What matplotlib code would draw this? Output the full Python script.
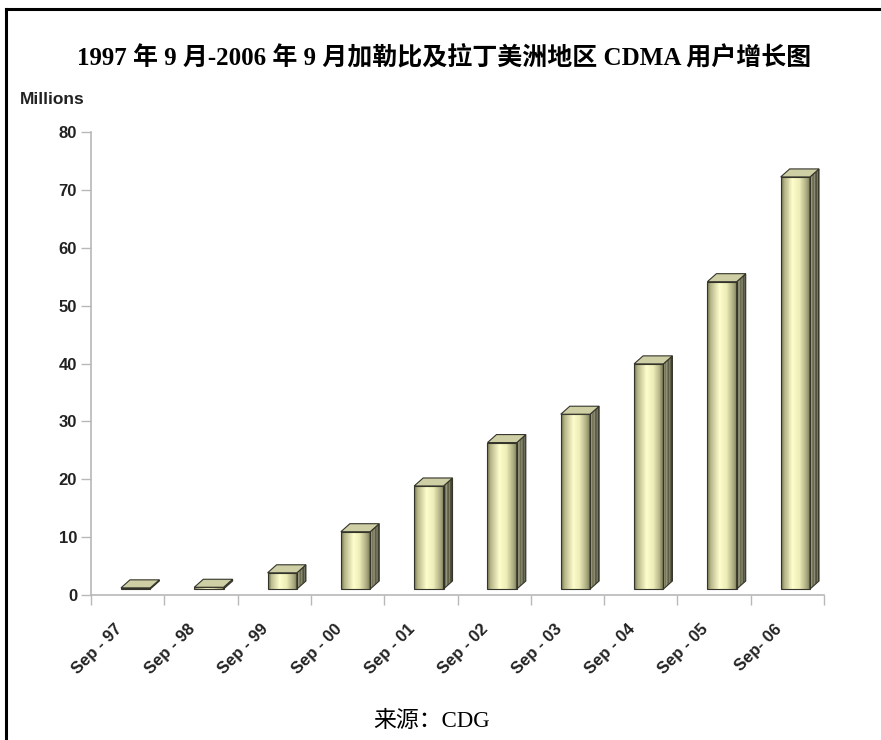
import matplotlib
matplotlib.use('Agg')
import matplotlib.pyplot as plt
import numpy as np
from matplotlib.patches import Rectangle, Polygon
from matplotlib.colors import LinearSegmentedColormap
from matplotlib.transforms import ScaledTranslation
from matplotlib.lines import Line2D

# ---- data ----
categories = ['Sep - 97', 'Sep - 98', 'Sep - 99', 'Sep - 00', 'Sep - 01',
              'Sep - 02', 'Sep - 03', 'Sep - 04', 'Sep - 05', 'Sep- 06']
subscribers = [0.2, 0.3, 2.8, 9.9, 17.8, 25.3, 30.2, 38.9, 53.1, 71.2]
y_ticks = [0, 10, 20, 30, 40, 50, 60, 70, 80]
title = '1997 年 9 月-2006 年 9 月加勒比及拉丁美洲地区 CDMA 用户增长图'
y_unit = 'Millions'
source = '来源：CDG'

W, H = 881, 740
fig = plt.figure(figsize=(W / 100, H / 100), dpi=100)
fig.patch.set_facecolor('white')

ax_l, ax_r, ax_b, ax_t = 91, 824, 595, 132
ax = fig.add_axes([ax_l / W, 1 - ax_b / H, (ax_r - ax_l) / W, (ax_b - ax_t) / H])
ax.set_xlim(-0.5, len(categories) - 0.5)
ax.set_ylim(0, 80)
ax.patch.set_alpha(0)

# ---- 3D-style bars ----
bar_w = 0.40
px_per_x = (ax_r - ax_l) / len(categories)
px_per_y = (ax_b - ax_t) / 80
depth_dx = 9.0 / px_per_x
depth_dy = 8.0 / px_per_y
off = ax.transData + ScaledTranslation(0.08, 0.06, fig.dpi_scale_trans)

front_cmap = LinearSegmentedColormap.from_list(
    'front', [(0.0, '#6f6f48'), (0.12, '#b5b588'), (0.42, '#fdfdcc'),
              (0.65, '#ececb6'), (0.88, '#acac82'), (1.0, '#7e7e57')])
side_cmap = LinearSegmentedColormap.from_list(
    'side', [(0.0, '#8a8a66'), (0.5, '#66664a'), (1.0, '#3f3f2c')])
edge_c = '#34342a'
n_strips = 30

for i, v in enumerate(subscribers):
    x0 = i - bar_w / 2
    x1 = i + bar_w / 2
    # front face gradient
    sw = bar_w / n_strips
    for k in range(n_strips):
        ax.add_patch(Rectangle((x0 + k * sw, 0), sw * 1.02, v,
                               facecolor=front_cmap((k + 0.5) / n_strips),
                               edgecolor='none', transform=off, zorder=3))
    ax.add_patch(Rectangle((x0, 0), bar_w, v, facecolor='none',
                           edgecolor=edge_c, lw=0.8, transform=off, zorder=4))
    # side face
    ns = 6
    for k in range(ns):
        a = x1 + depth_dx * k / ns
        b = x1 + depth_dx * (k + 1) / ns
        ya = depth_dy * k / ns
        yb = depth_dy * (k + 1) / ns
        ax.add_patch(Polygon([(a, ya), (b, yb), (b, v + yb), (a, v + ya)],
                             closed=True, facecolor=side_cmap((k + 0.5) / ns),
                             edgecolor='none', transform=off, zorder=3))
    ax.add_patch(Polygon([(x1, 0), (x1 + depth_dx, depth_dy),
                          (x1 + depth_dx, v + depth_dy), (x1, v)],
                         closed=True, facecolor='none', edgecolor=edge_c,
                         lw=0.8, transform=off, zorder=4))
    # top face
    ax.add_patch(Polygon([(x0, v), (x1, v), (x1 + depth_dx, v + depth_dy),
                          (x0 + depth_dx, v + depth_dy)],
                         closed=True, facecolor='#cfcfa6', edgecolor=edge_c,
                         lw=0.8, transform=off, zorder=4))

# ---- axes styling ----
axis_gray = '#b8b8b8'
for s in ['top', 'right']:
    ax.spines[s].set_visible(False)
for s in ['left', 'bottom']:
    ax.spines[s].set_color(axis_gray)
    ax.spines[s].set_linewidth(1.2)

ax.set_yticks(y_ticks)
ax.set_yticklabels([str(t) for t in y_ticks], fontsize=12, fontweight='bold',
                   family='Liberation Sans', color='#222222')
ax.tick_params(axis='y', length=7, width=1, color=axis_gray, pad=3)

ax.set_xticks(range(len(categories)))
ax.set_xticklabels(categories, rotation=45, ha='right', va='center',
                   rotation_mode='anchor', fontsize=12, fontweight='bold',
                   family='Liberation Sans', color='#222222')
ax.tick_params(axis='x', which='major', length=0, pad=23)
ax.set_xticks(np.arange(-0.5, len(categories), 1.0), minor=True)
ax.tick_params(axis='x', which='minor', length=7, width=1, color=axis_gray)
for lab in ax.get_xticklabels():
    lab.set_transform(lab.get_transform() + ScaledTranslation(-0.08, 0, fig.dpi_scale_trans))

# ---- texts ----
fig.text(444 / W, 1 - 58 / H, title, ha='center', va='center', fontsize=18,
         fontweight='bold', family=['Liberation Serif', 'Noto Sans CJK SC'])
fig.text(20 / W, 1 - 99 / H, y_unit, ha='left', va='center', fontsize=12.5,
         fontweight='bold', family='Liberation Sans', color='#222222')
fig.text(432 / W, 1 - 721 / H, source, ha='center', va='center', fontsize=16.5,
         family=['Liberation Serif', 'Noto Sans CJK SC'])

# ---- frame border (left and top) ----
fig.add_artist(Line2D([6 / W, 6 / W], [0, 1 - 9 / H], transform=fig.transFigure,
                      color='black', lw=2.2))
fig.add_artist(Line2D([6 / W, 1], [1 - 9 / H, 1 - 9 / H], transform=fig.transFigure,
                      color='black', lw=2.2))

fig.savefig('out.png', dpi=100, facecolor='white')
